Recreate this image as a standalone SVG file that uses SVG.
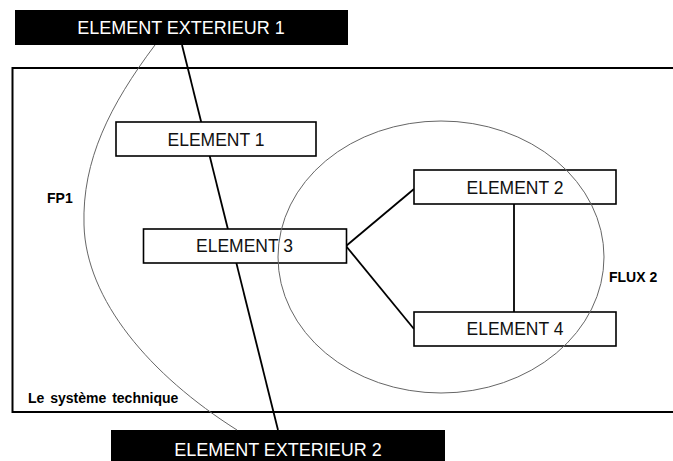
<svg xmlns="http://www.w3.org/2000/svg" width="673" height="461" viewBox="0 0 673 461">
<style>
.box{fill:#fff;stroke:#000;stroke-width:1.6}
.ext{fill:#000;stroke:none}
.lbl{font-family:"Liberation Sans",Arial,sans-serif;font-size:17.5px;text-anchor:middle;fill:#111}
.extlbl{font-family:"Liberation Sans",Arial,sans-serif;font-size:18px;text-anchor:middle;fill:#fff}
.tag{font-family:"Liberation Sans",Arial,sans-serif;font-size:14px;font-weight:bold;fill:#000}
.conn{stroke:#000;stroke-width:1.8;fill:none}
.flux{stroke:#666;stroke-width:1;fill:none}
</style>
<rect width="673" height="461" fill="#fff"/>
<g id="systeme">
<rect x="12.5" y="68" width="700" height="344" fill="none" stroke="#000" stroke-width="2"/>
<text class="tag" x="28" y="403" word-spacing="2">Le système technique</text>
</g>
<g id="connectors">
<line class="conn" x1="182" y1="45" x2="278" y2="430"/>
<line class="conn" x1="346" y1="246" x2="414" y2="189"/>
<line class="conn" x1="346" y1="246" x2="414" y2="329"/>
<line class="conn" x1="514" y1="204" x2="514" y2="312"/>
</g>
<g id="ext1">
<rect class="ext" x="15" y="10" width="333" height="35"/>
<text class="extlbl" x="181" y="34">ELEMENT EXTERIEUR 1</text>
</g>
<g id="ext2">
<rect class="ext" x="111" y="430" width="334" height="35"/>
<text class="extlbl" x="278" y="456">ELEMENT EXTERIEUR 2</text>
</g>
<g id="element1">
<rect class="box" x="116" y="122" width="200" height="34"/>
<text class="lbl" x="216" y="145.5">ELEMENT 1</text>
</g>
<g id="element3">
<rect class="box" x="143.5" y="229" width="203" height="34"/>
<text class="lbl" x="244.5" y="252">ELEMENT 3</text>
</g>
<g id="element2">
<rect class="box" x="414" y="170" width="202" height="34"/>
<text class="lbl" x="515" y="193.5">ELEMENT 2</text>
</g>
<g id="element4">
<rect class="box" x="414" y="312" width="202" height="34"/>
<text class="lbl" x="515" y="335">ELEMENT 4</text>
</g>
<g id="flux">
<ellipse class="flux" cx="441" cy="257" rx="163" ry="136"/>
<path class="flux" d="M155,45 C110,105 82,160 84,225 C86,300 150,375 237,430"/>
<text class="tag" x="47" y="203">FP1</text>
<text class="tag" x="609" y="282">FLUX 2</text>
</g>
</svg>
